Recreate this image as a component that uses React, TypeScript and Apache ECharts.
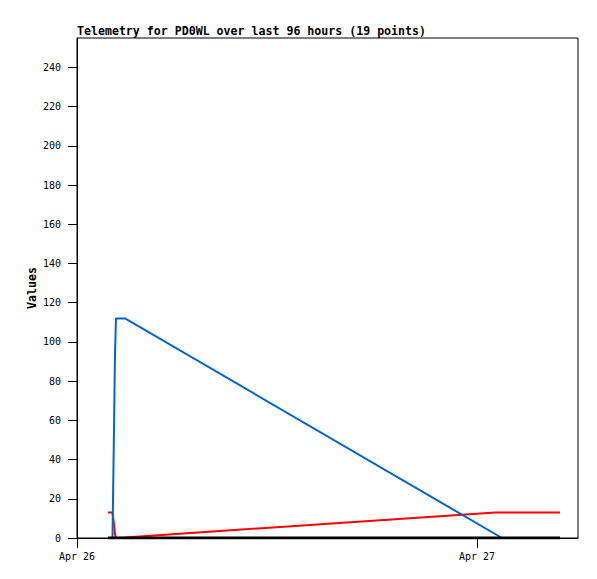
import React, { useEffect, useRef } from "react";
import * as echarts from "echarts";

const TITLE = "Telemetry for PD0WL over last 96 hours (19 points)";
const Y_NAME = "Values";
const START = Date.UTC(2024, 3, 26, 0, 0, 0);
const HOUR = 3600 * 1000;
const X_END_HOURS = 30.06;
const X_TICK_HOURS = [0, 24];
const X_TICK_LABELS = ["Apr 26", "Apr 27"];
const Y_MAX = 255;
const Y_TICKS = [0, 20, 40, 60, 80, 100, 120, 140, 160, 180, 200, 220, 240];

const redHours = [1.86, 2.13, 2.22, 2.28, 2.34, 2.88, 25.1, 28.98];
const redValues = [13, 13, 7, 2, 0, 0.3, 13, 13];
const blueHours = [2.13, 2.16, 2.22, 2.28, 2.34, 2.88, 25.5];
const blueValues = [0, 19, 56, 94, 112, 112, 0];
const blackHours = [1.86, 28.98];
const blackValues = [0, 0];

const toPairs = (hours: number[], vals: number[]) =>
  hours.map((h, i) => [START + h * HOUR, vals[i]]);

const MONO = "'DejaVu Sans Mono', monospace";

export default function App() {
  const ref = useRef<HTMLDivElement>(null);
  useEffect(() => {
    document.body.style.margin = "0";
    const chart = echarts.init(ref.current!, null, { renderer: "svg" });
    const xTicks = X_TICK_HOURS.map((h) => START + h * HOUR);
    chart.setOption({
      animation: false,
      backgroundColor: "#ffffff",
      title: {
        text: TITLE,
        left: 77,
        top: 25,
        padding: 0,
        textStyle: { fontFamily: MONO, fontSize: 11.6, fontWeight: "bold", color: "#000" },
      },
      grid: {
        left: 77,
        top: 38,
        right: 19,
        bottom: 41,
        show: true,
        borderColor: "#000",
        borderWidth: 1,
        backgroundColor: "#fff",
      },
      xAxis: {
        type: "value",
        min: START,
        max: START + X_END_HOURS * HOUR,
        splitLine: { show: false },
        axisLine: { show: true, lineStyle: { color: "#000", width: 1 } },
        axisTick: { show: true, length: 10, customValues: xTicks, lineStyle: { color: "#000" } },
        axisLabel: {
          customValues: xTicks,
          margin: 13,
          fontFamily: MONO,
          fontSize: 10,
          color: "#000",
          showMinLabel: true,
          showMaxLabel: true,
          formatter: (v: number) => {
            const idx = xTicks.findIndex((t) => Math.abs(t - v) < 1000);
            return idx >= 0 ? X_TICK_LABELS[idx] : "";
          },
        },
      },
      yAxis: {
        type: "value",
        min: 0,
        max: Y_MAX,
        name: Y_NAME,
        nameLocation: "middle",
        nameRotate: 90,
        nameGap: 39,
        nameMoveOverlap: false,
        nameTextStyle: { fontFamily: MONO, fontSize: 11.6, fontWeight: "bold", color: "#000" },
        splitLine: { show: false },
        axisLine: { show: true, lineStyle: { color: "#000", width: 1 } },
        axisTick: { show: true, length: 9, customValues: Y_TICKS, lineStyle: { color: "#000" } },
        axisLabel: {
          customValues: Y_TICKS,
          margin: 16,
          fontFamily: MONO,
          fontSize: 10,
          color: "#000",
        },
      },
      series: [
        {
          name: "red",
          type: "line",
          data: toPairs(redHours, redValues),
          symbol: "none",
          lineStyle: { color: "#ff0000", width: 2 },
          itemStyle: { color: "#ff0000" },
        },
        {
          name: "blue",
          type: "line",
          data: toPairs(blueHours, blueValues),
          symbol: "none",
          lineStyle: { color: "#0066cc", width: 2 },
          itemStyle: { color: "#0066cc" },
        },
        {
          name: "black",
          type: "line",
          data: toPairs(blackHours, blackValues),
          symbol: "none",
          lineStyle: { color: "#000000", width: 3 },
          itemStyle: { color: "#000000" },
        },
      ],
    });
    return () => chart.dispose();
  }, []);
  return <div ref={ref} style={{ width: 597, height: 579 }} />;
}
